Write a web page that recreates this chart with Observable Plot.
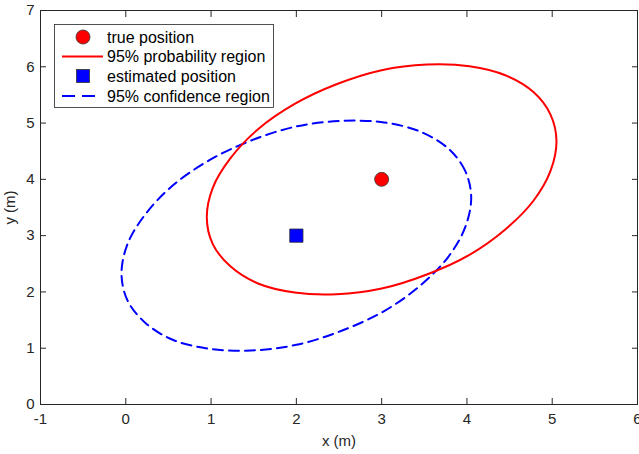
<!DOCTYPE html>
<html>
<head>
<meta charset="utf-8">
<script src="https://cdn.jsdelivr.net/npm/d3@7"></script>
<script src="https://cdn.jsdelivr.net/npm/@observablehq/plot@0.6"></script>
<style>
  html, body { margin: 0; padding: 0; background: #fff; }
  #wrap { position: relative; width: 639px; height: 454px; }
  #legend { position: absolute; left: 0; top: 0; }
</style>
</head>
<body>
<div id="wrap"></div>
<script>
// Data
const truePos = [{x: 3, y: 4}];
const estPos = [{x: 2, y: 3}];
// 95% probability region (red, around true position)
const probX = [5.05, 4.98, 4.78, 4.45, 4.03, 3.53, 3.00, 2.47, 1.98, 1.55, 1.23, 1.02, 0.95, 1.02, 1.23, 1.55, 1.98, 2.47, 3.00, 3.53, 4.03, 4.45, 4.78, 4.98];
const probY = [4.68, 5.15, 5.55, 5.85, 6.01, 6.04, 5.94, 5.69, 5.34, 4.89, 4.38, 3.85, 3.32, 2.85, 2.45, 2.15, 1.99, 1.96, 2.06, 2.31, 2.66, 3.11, 3.62, 4.15];
// 95% confidence region (blue dashed, around estimated position)
const confX = [4.05, 3.98, 3.78, 3.45, 3.03, 2.53, 2.00, 1.47, 0.98, 0.55, 0.23, 0.02, -0.05, 0.02, 0.23, 0.55, 0.98, 1.47, 2.00, 2.53, 3.03, 3.45, 3.78, 3.98];
const confY = [3.68, 4.15, 4.55, 4.85, 5.01, 5.04, 4.94, 4.69, 4.34, 3.89, 3.38, 2.85, 2.32, 1.85, 1.45, 1.15, 0.99, 0.96, 1.06, 1.31, 1.66, 2.11, 2.62, 3.15];
const xTicks = [-1, 0, 1, 2, 3, 4, 5, 6];
const yTicks = [0, 1, 2, 3, 4, 5, 6, 7];
const legendLabels = ["true position", "95% probability region", "estimated position", "95% confidence region"];

const probPts = probX.map((x, i) => ({x, y: probY[i]}));
const confPts = confX.map((x, i) => ({x, y: confY[i]}));

const axisColor = "#262626";
const fmt = d => String(d);

const chart = Plot.plot({
  width: 639,
  height: 454,
  marginLeft: 40,
  marginRight: 2,
  marginTop: 10,
  marginBottom: 50,
  x: {domain: [-1, 6]},
  y: {domain: [0, 7]},
  style: {fontFamily: "'Liberation Sans', Arial, sans-serif", fontSize: "15px", color: axisColor, background: "#fff", overflow: "visible"},
  marks: [
    Plot.line(confPts, {x: "x", y: "y", curve: "catmull-rom-closed", stroke: "#0000ff", strokeWidth: 2, strokeDasharray: "10,6"}),
    Plot.line(probPts, {x: "x", y: "y", curve: "catmull-rom-closed", stroke: "#ff0000", strokeWidth: 2}),
    Plot.dot(truePos, {x: "x", y: "y", r: 7, fill: "#ff0000", stroke: "#333", strokeWidth: 0.8}),
    Plot.dot(estPos, {x: "x", y: "y", r: 7.5, symbol: "square", fill: "#0000ff", stroke: "#333", strokeWidth: 0.8}),
    Plot.frame({stroke: axisColor, strokeWidth: 1}),
    Plot.axisX({anchor: "bottom", ticks: xTicks, tickFormat: fmt, tickSize: -6, tickPadding: 15, fontSize: 15, label: "x (m)", labelAnchor: "center", labelArrow: "none", labelOffset: 41, stroke: axisColor}),
    Plot.axisX({anchor: "top", ticks: xTicks, tickSize: -6, tickFormat: () => "", label: null, stroke: axisColor}),
    Plot.axisY({anchor: "left", ticks: yTicks, tickFormat: fmt, tickSize: -6, tickPadding: 12, fontSize: 15, label: "y (m)", labelAnchor: "center", labelArrow: "none", labelOffset: 36, stroke: axisColor}),
    Plot.axisY({anchor: "right", ticks: yTicks, tickSize: -6, tickFormat: () => "", label: null, stroke: axisColor})
  ]
});

const wrap = document.getElementById("wrap");
wrap.appendChild(chart);

// Legend overlay (inside the axes, top-left)
const lg = d3.create("svg").attr("id", "legend").attr("width", 639).attr("height", 454)
  .style("font-family", "'Liberation Sans', Arial, sans-serif").style("font-size", "16px");
lg.append("rect").attr("x", 54.5).attr("y", 24.5).attr("width", 219).attr("height", 83)
  .attr("fill", "#fff").attr("stroke", axisColor).attr("stroke-width", 0.8);
const rowY = [37, 56.5, 76, 96];
lg.append("circle").attr("cx", 83).attr("cy", rowY[0]).attr("r", 7).attr("fill", "#ff0000").attr("stroke", "#333").attr("stroke-width", 0.8);
lg.append("line").attr("x1", 62).attr("x2", 103).attr("y1", rowY[1]).attr("y2", rowY[1]).attr("stroke", "#ff0000").attr("stroke-width", 2);
lg.append("rect").attr("x", 76.5).attr("y", rowY[2] - 6.5).attr("width", 13).attr("height", 13).attr("fill", "#0000ff").attr("stroke", "#333").attr("stroke-width", 0.8);
lg.append("line").attr("x1", 62).attr("x2", 101).attr("y1", rowY[3]).attr("y2", rowY[3]).attr("stroke", "#0000ff").attr("stroke-width", 2).attr("stroke-dasharray", "13,7");
legendLabels.forEach((t, i) => {
  lg.append("text").attr("x", 107).attr("y", rowY[i]).attr("dy", "0.35em").attr("fill", "#000").text(t);
});
wrap.appendChild(lg.node());
</script>
</body>
</html>
